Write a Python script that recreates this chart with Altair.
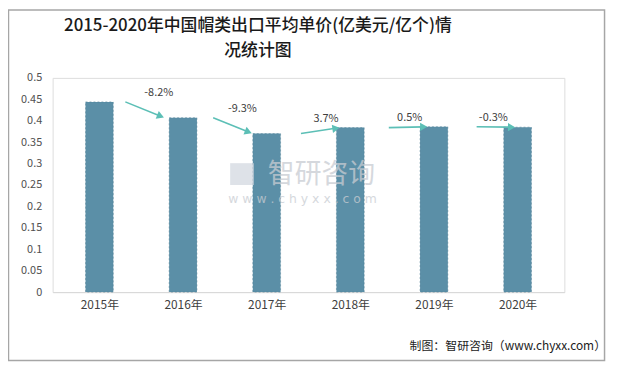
import math
import altair as alt
import pandas as pd

# ---- data ----
years = ["2015年", "2016年", "2017年", "2018年", "2019年", "2020年"]
prices = [0.444, 0.407, 0.370, 0.384, 0.386, 0.385]
growth_labels = ["-8.2%", "-9.3%", "3.7%", "0.5%", "-0.3%"]
y_ticks = [0, 0.05, 0.1, 0.15, 0.2, 0.25, 0.3, 0.35, 0.4, 0.45, 0.5]
title_lines = ["2015-2020年中国帽类出口平均单价(亿美元/亿个)情", "况统计图"]
source_text = "制图：智研咨询（www.chyxx.com）"

W, H = 516, 216
X_DOMAIN = [-0.5, len(years) - 0.5]
Y_DOMAIN = [0, 0.5]
FONT = "Noto Sans CJK SC"
BAR = "#5b8fa7"
ARROW = "#5cbfb6"

bars_df = pd.DataFrame({"idx": list(range(len(years))), "year": years, "price": prices})

rows = []
px_per_x = W / (X_DOMAIN[1] - X_DOMAIN[0])
px_per_y = H / (Y_DOMAIN[1] - Y_DOMAIN[0])
for i, lab in enumerate(growth_labels):
    x0 = i + 0.31 + 0.05 * i
    x1 = i + 0.78 + 0.05 * i
    y0, y1 = prices[i], prices[i + 1]
    dxp = (x1 - x0) * px_per_x
    dyp = -(y1 - y0) * px_per_y
    ang = (math.degrees(math.atan2(dyp, dxp)) + 360) % 360
    L = math.hypot(dxp, dyp)
    back = 5.0 / L
    rows.append(dict(x0=x0, y0=y0, x1=x1 - (x1 - x0) * back, y1=y1 - (y1 - y0) * back,
                     hx=x1 - (x1 - x0) * back * 0.9, hy=y1 - (y1 - y0) * back * 0.9,
                     ang=ang, lx=i + 0.71, ly=max(y0, y1), label=lab))
arr_df = pd.DataFrame(rows)

xs = alt.Scale(domain=X_DOMAIN, nice=False, zero=False)
ys = alt.Scale(domain=Y_DOMAIN, nice=False)

label_expr = "[" + ",".join(f"'{y}'" for y in years) + "][datum.value]"
x_axis = alt.Axis(values=list(range(len(years))), labelExpr=label_expr, grid=False, ticks=False,
                  domainColor="#d9d9d9", labelColor="#404040", labelFont=FONT, labelFontSize=12,
                  labelPadding=8, labelOverlap=False)
y_axis = alt.Axis(values=y_ticks, format="~g", grid=False, ticks=False, domain=False,
                  labelColor="#505050", labelFont=FONT, labelFontSize=11, labelPadding=11,
                  labelOverlap=False, labelBound=False, tickCount=11)

bars = alt.Chart(bars_df).mark_bar(color=BAR, size=28, stroke="#4a7a90", strokeWidth=0.5, strokeDash=[2, 2]).encode(
    x=alt.X("idx:Q", scale=xs, title=None, axis=x_axis),
    y=alt.Y("price:Q", scale=ys, title=None, axis=y_axis),
)

lines = alt.Chart(arr_df).mark_rule(color=ARROW, strokeWidth=1.6).encode(
    x=alt.X("x0:Q", scale=xs, title=None, axis=x_axis), x2="x1:Q",
    y=alt.Y("y0:Q", scale=ys, title=None, axis=y_axis), y2="y1:Q",
)

heads = alt.Chart(arr_df).mark_point(shape="triangle-right", filled=True, color=ARROW, size=70, opacity=1).encode(
    x=alt.X("hx:Q", scale=xs, title=None, axis=x_axis),
    y=alt.Y("hy:Q", scale=ys, title=None, axis=y_axis),
    angle=alt.Angle("ang:Q", scale=None),
)

labels = alt.Chart(arr_df).mark_text(font=FONT, fontSize=11, color="#404040", dy=-9).encode(
    x=alt.X("lx:Q", scale=xs, title=None, axis=x_axis),
    y=alt.Y("ly:Q", scale=ys, title=None, axis=y_axis),
    text="label:N",
)

wm1 = alt.Chart(pd.DataFrame({"t": ["智研咨询"]})).mark_text(
    font=FONT, fontSize=27, color="#c8ccd2", opacity=0.75, align="center").encode(
    x=alt.value(271), y=alt.value(98), text="t:N")
wm2 = alt.Chart(pd.DataFrame({"t": ["w w w . c h y x x . c o m"]})).mark_text(
    font="DejaVu Sans", fontSize=12.5, color="#c8ccd2", opacity=0.75, align="center").encode(
    x=alt.value(252), y=alt.value(122), text="t:N")
logo = alt.Chart(pd.DataFrame({"t": ["logo"]})).mark_rect(color="#d0d6de", opacity=0.7).encode(
    x=alt.value(179), x2=alt.value(203), y=alt.value(86), y2=alt.value(108))

src = alt.Chart(pd.DataFrame({"t": [source_text]})).mark_text(
    font=FONT, fontSize=12, color="#222222", align="right").encode(
    x=alt.value(558), y=alt.value(270), text="t:N")

border = alt.Chart(pd.DataFrame({"a": [0]})).mark_rect(fill="transparent", stroke="#a6a6a6", strokeWidth=1.5).encode(
    x=alt.value(-44.5), x2=alt.value(556.5), y=alt.value(-68.5), y2=alt.value(285))

t1 = alt.Chart(pd.DataFrame({"t": [title_lines[0]]})).mark_text(
    font=FONT, fontSize=17, fontWeight=500, color="#1a1a1a", align="center").encode(
    x=alt.value(207), y=alt.value(-52), text="t:N")
t2 = alt.Chart(pd.DataFrame({"t": [title_lines[1]]})).mark_text(
    font=FONT, fontSize=17, fontWeight=500, color="#1a1a1a", align="center").encode(
    x=alt.value(207), y=alt.value(-27), text="t:N")

chart = alt.layer(border, bars, lines, heads, labels, logo, wm1, wm2, src, t1, t2).properties(
    width=W, height=H,
    autosize=alt.AutoSizeParams(type="none"),
    padding={"left": 45, "top": 69, "right": 45, "bottom": 69},
).configure_view(stroke=None).configure_axis(labelOverlap=False).configure(background="white")

chart.save("out.html", embed_options={"renderer": "svg", "actions": False})
